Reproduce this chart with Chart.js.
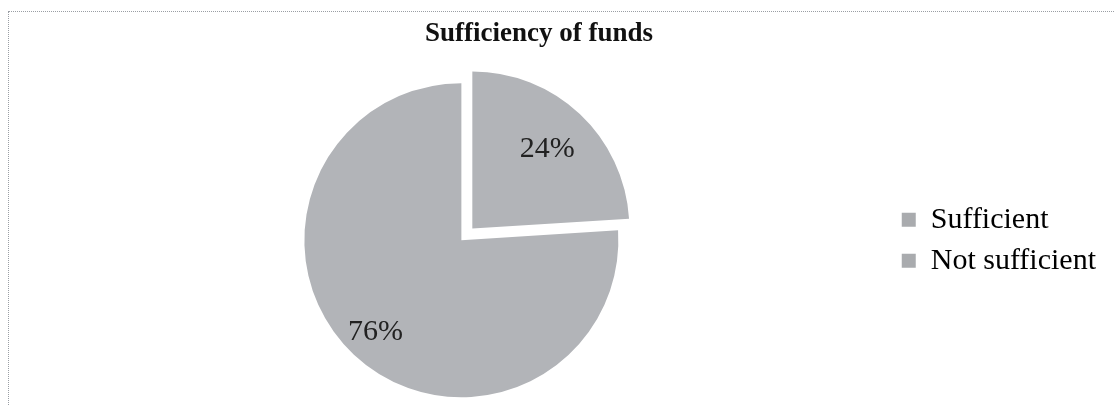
<!DOCTYPE html>
<html>
<head>
<meta charset="utf-8">
<script src="https://cdn.jsdelivr.net/npm/chart.js@4"></script>
<style>
  html, body { margin: 0; padding: 0; background: #ffffff; }
  body { width: 1115px; height: 405px; position: relative; overflow: hidden; }
  #frame { position: absolute; left: 8px; top: 11px; width: 1120px; height: 420px;
           border-top: 1px dotted #9a9ea4; border-left: 1px dotted #9a9ea4; box-sizing: border-box; }
  #wrap { position: absolute; left: 0; top: 0; width: 1115px; height: 405px; }
</style>
</head>
<body>
<div id="frame"></div>
<div id="wrap"><canvas id="c" width="1115" height="405"></canvas></div>
<script>
const chartTitle = "Sufficiency of funds";
const categories = ["Sufficient", "Not sufficient"];
const values = [24, 76];
const valueLabels = ["24%", "76%"];

const sliceColor = "#b2b4b8";
const legendColor = "#a9abae";
const serif = "'Liberation Serif', 'Times New Roman', serif";
const titleCenterX = 539;

const titleShift = {
  id: 'titleShift',
  afterLayout(chart) {
    const t = chart.titleBlock;
    if (t) { t.right = 2 * titleCenterX - t.left; t.width = t.right - t.left; }
  }
};

const pctLabels = {
  id: 'pctLabels',
  afterDatasetsDraw(chart) {
    const ctx = chart.ctx;
    const meta = chart.getDatasetMeta(0);
    ctx.save();
    ctx.font = "30px " + serif;
    ctx.fillStyle = "#222222";
    ctx.textAlign = "center";
    ctx.textBaseline = "middle";
    meta.data.forEach((arc, i) => {
      const p = arc.getProps(['x', 'y', 'startAngle', 'endAngle', 'outerRadius'], true);
      const mid = (p.startAngle + p.endAngle) / 2;
      const r = p.outerRadius * 0.8;
      ctx.fillText(valueLabels[i], p.x + Math.cos(mid) * r, p.y + Math.sin(mid) * r);
    });
    ctx.restore();
  }
};

new Chart(document.getElementById('c'), {
  type: 'pie',
  data: {
    labels: categories,
    datasets: [{
      data: values,
      backgroundColor: [sliceColor, sliceColor],
      borderWidth: 0,
      offset: [64, 0],
      radius: 157
    }]
  },
  options: {
    responsive: false,
    animation: false,
    devicePixelRatio: 1,
    layout: { padding: { left: 32, right: 9, top: 0, bottom: 0 } },
    plugins: {
      title: {
        display: true,
        text: chartTitle,
        color: "#111111",
        font: { family: serif, size: 27, weight: 'bold' },
        padding: { top: 18, bottom: 25 }
      },
      legend: {
        position: 'right',
        align: 'center',
        fullSize: false,
        labels: {
          color: "#222222",
          font: { family: serif, size: 30 },
          boxWidth: 14,
          boxHeight: 14,
          padding: 11,
          generateLabels(chart) {
            return categories.map((c, i) => ({
              text: c, fillStyle: legendColor, strokeStyle: legendColor,
              lineWidth: 0, hidden: false, index: i, datasetIndex: 0
            }));
          }
        }
      },
      tooltip: { enabled: false }
    }
  },
  plugins: [titleShift, pctLabels]
});
</script>
</body>
</html>
